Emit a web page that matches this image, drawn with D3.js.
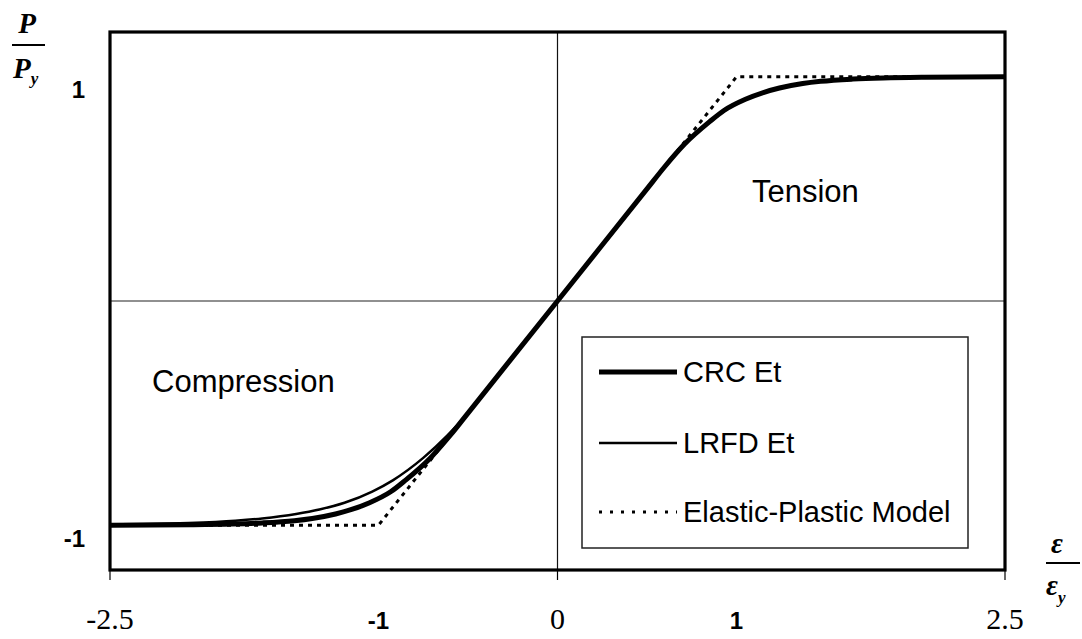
<!DOCTYPE html>
<html>
<head>
<meta charset="utf-8">
<script src="https://cdn.jsdelivr.net/npm/d3@7"></script>
<style>
  html, body { margin: 0; padding: 0; background: #fff; }
  svg { display: block; }
  .sans { font-family: Arial, "Liberation Sans", sans-serif; }
  .serif { font-family: "Times New Roman", "Liberation Serif", serif; }
</style>
</head>
<body>
<div id="chart"></div>
<script>
(function () {
  'use strict';

  /* ---- Data ---- */
  // strain ratio eps/eps_y and load ratio P/Py
  const CRC_EPS = [-2.5, -2.05, -1.82, -1.65, -1.47, -1.37, -1.24, -1.15, -1.05, -0.93, -0.85, -0.71, -0.6, -0.5, 0,
                   0.5, 0.6, 0.71, 0.85, 0.93, 1.05, 1.15, 1.24, 1.37, 1.47, 1.65, 1.82, 2.05, 2.5];
  const CRC_P   = [-1.0, -0.998, -0.995, -0.99, -0.98, -0.97, -0.95, -0.93, -0.9, -0.85, -0.8, -0.7, -0.6, -0.5, 0,
                   0.5, 0.6, 0.7, 0.8, 0.85, 0.9, 0.93, 0.95, 0.97, 0.98, 0.99, 0.995, 0.998, 1.0];

  const LRFD_EPS = [-2.5, -2.31, -2.06, -1.8, -1.65, -1.46, -1.33, -1.19, -1.035, -0.92, -0.75, -0.615, -0.5, -0.39, 0];
  const LRFD_P   = [-0.997, -0.995, -0.99, -0.98, -0.97, -0.95, -0.93, -0.9, -0.85, -0.8, -0.7, -0.6, -0.5, -0.39, 0];

  const EP_EPS = [-2.5, -1, 1, 2.5];
  const EP_P   = [-1, -1, 1, 1];

  const X_TICKS = [-2.5, -1, 0, 1, 2.5];
  const X_TICK_LABELS = ['-2.5', '-1', '0', '1', '2.5'];
  const X_TICK_SERIF = [true, false, true, false, true];
  const X_TICK_MARKS = [-2.5, 0, 2.5];
  const Y_TICKS = [1, -1];
  const Y_TICK_LABELS = ['1', '-1'];

  const SERIES = [
    { name: 'CRC Et', eps: CRC_EPS, p: CRC_P, width: 5, dash: null },
    { name: 'LRFD Et', eps: LRFD_EPS, p: LRFD_P, width: 2.5, dash: null },
    { name: 'Elastic-Plastic Model', eps: EP_EPS, p: EP_P, width: 3, dash: '4,5' }
  ];

  /* ---- Layout ---- */
  const W = 1082, H = 639;
  const plot = { left: 110, right: 1005, top: 32, bottom: 570 };

  const x = d3.scaleLinear().domain([-2.5, 2.5]).range([plot.left, plot.right]);
  const y = d3.scaleLinear().domain([-1.2, 1.2]).range([plot.bottom, plot.top]);

  const svg = d3.select('#chart').append('svg')
    .attr('width', W).attr('height', H);

  /* ---- Zero lines ---- */
  svg.append('line')
    .attr('x1', x(0)).attr('x2', x(0))
    .attr('y1', plot.top).attr('y2', plot.bottom)
    .attr('stroke', '#111').attr('stroke-width', 1.2);
  svg.append('line')
    .attr('x1', plot.left).attr('x2', plot.right)
    .attr('y1', y(0)).attr('y2', y(0))
    .attr('stroke', '#222').attr('stroke-width', 1.2);

  /* ---- Curves ---- */
  const lineGen = d3.line()
    .x(d => x(d[0]))
    .y(d => y(d[1]))
    .curve(d3.curveMonotoneX);
  const straightGen = d3.line()
    .x(d => x(d[0]))
    .y(d => y(d[1]));

  // dotted first, then thin, then thick on top
  [2, 1, 0].forEach(i => {
    const s = SERIES[i];
    const pts = s.eps.map((e, k) => [e, s.p[k]]);
    svg.append('path')
      .attr('d', s.dash ? straightGen(pts) : lineGen(pts))
      .attr('fill', 'none')
      .attr('stroke', '#000')
      .attr('stroke-width', s.width)
      .attr('stroke-dasharray', s.dash)
      .attr('stroke-linejoin', 'round');
  });

  /* ---- Plot border ---- */
  svg.append('rect')
    .attr('x', plot.left).attr('y', plot.top)
    .attr('width', plot.right - plot.left).attr('height', plot.bottom - plot.top)
    .attr('fill', 'none').attr('stroke', '#000').attr('stroke-width', 3.2);

  /* ---- X axis ticks and labels ---- */
  svg.append('g').selectAll('line')
    .data(X_TICK_MARKS)
    .join('line')
      .attr('x1', d => x(d)).attr('x2', d => x(d))
      .attr('y1', plot.bottom).attr('y2', plot.bottom + 10)
      .attr('stroke', '#000').attr('stroke-width', 1.2);

  svg.append('g').selectAll('text')
    .data(X_TICKS)
    .join('text')
      .attr('class', (d, i) => X_TICK_SERIF[i] ? 'serif' : 'sans')
      .attr('x', d => x(d))
      .attr('y', 629)
      .attr('text-anchor', 'middle')
      .style('font-size', (d, i) => X_TICK_SERIF[i] ? '30px' : '24px')
      .style('font-weight', (d, i) => X_TICK_SERIF[i] ? 'normal' : 'bold')
      .text((d, i) => X_TICK_LABELS[i]);

  /* ---- Y labels (sit a little below their values in the original) ---- */
  svg.append('g').selectAll('text')
    .data(Y_TICKS)
    .join('text')
      .attr('class', 'sans')
      .attr('x', 85)
      .attr('y', d => y(d) + 13)
      .attr('text-anchor', 'end')
      .attr('dominant-baseline', 'central')
      .style('font-size', '24px')
      .style('font-weight', 'bold')
      .text((d, i) => Y_TICK_LABELS[i]);

  /* ---- Axis titles (fractions) ---- */
  const yt = svg.append('g').attr('class', 'serif')
    .style('font-style', 'italic').style('font-weight', 'bold');
  yt.append('text').attr('x', 27).attr('y', 33).attr('text-anchor', 'middle')
    .style('font-size', '29px').text('P');
  yt.append('line').attr('x1', 12).attr('x2', 45).attr('y1', 45).attr('y2', 45)
    .attr('stroke', '#000').attr('stroke-width', 2);
  const py = yt.append('text').attr('x', 13).attr('y', 78).style('font-size', '29px');
  py.append('tspan').text('P');
  py.append('tspan').attr('dy', 6).style('font-size', '17px').text('y');

  const xt = svg.append('g').attr('class', 'serif')
    .style('font-style', 'italic').style('font-weight', 'bold');
  xt.append('text').attr('x', 1057).attr('y', 553).attr('text-anchor', 'middle')
    .style('font-size', '29px').text('ε');
  xt.append('line').attr('x1', 1046).attr('x2', 1080).attr('y1', 563).attr('y2', 563)
    .attr('stroke', '#000').attr('stroke-width', 2);
  const ey = xt.append('text').attr('x', 1046).attr('y', 595).style('font-size', '29px');
  ey.append('tspan').text('ε');
  ey.append('tspan').attr('dy', 8).style('font-size', '17px').text('y');

  /* ---- Region annotations ---- */
  svg.append('text').attr('class', 'sans')
    .attr('x', 752).attr('y', 202)
    .style('font-size', '31px').text('Tension');
  svg.append('text').attr('class', 'sans')
    .attr('x', 152).attr('y', 392)
    .style('font-size', '31px').text('Compression');

  /* ---- Legend ---- */
  const leg = svg.append('g');
  leg.append('rect')
    .attr('x', 582).attr('y', 337).attr('width', 386).attr('height', 211)
    .attr('fill', '#fff').attr('stroke', '#222').attr('stroke-width', 1.5);
  const LEG_Y = [372, 443, 512];
  SERIES.forEach((s, i) => {
    leg.append('line')
      .attr('x1', 599).attr('x2', 677)
      .attr('y1', LEG_Y[i]).attr('y2', LEG_Y[i])
      .attr('stroke', '#000').attr('stroke-width', s.width)
      .attr('stroke-dasharray', s.dash ? '3,8' : null);
    leg.append('text').attr('class', 'sans')
      .attr('x', 683).attr('y', LEG_Y[i])
      .attr('dominant-baseline', 'central')
      .style('font-size', '29px')
      .text(s.name);
  });
})();
</script>
</body>
</html>
